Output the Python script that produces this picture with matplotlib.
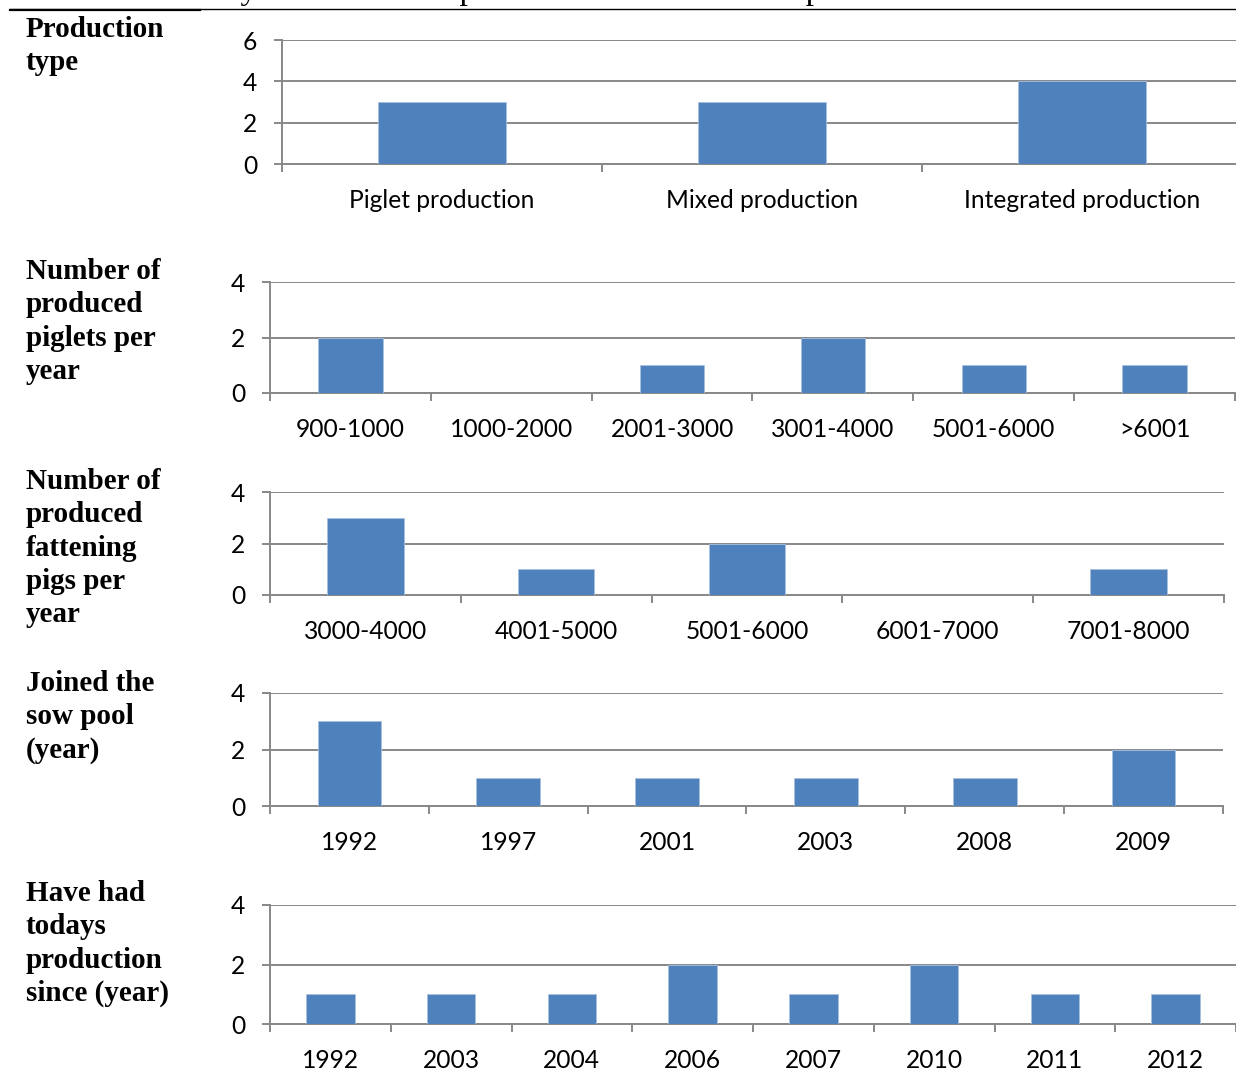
import matplotlib
matplotlib.use("Agg")
import matplotlib.pyplot as plt
import numpy as np

# ---- data ----
production_type = ["Piglet production", "Mixed production", "Integrated production"]
production_type_n = [3, 3, 4]

piglets_per_year = ["900-1000", "1000-2000", "2001-3000", "3001-4000", "5001-6000", ">6001"]
piglets_per_year_n = [2, 0, 1, 2, 1, 1]

fattening_per_year = ["3000-4000", "4001-5000", "5001-6000", "6001-7000", "7001-8000"]
fattening_per_year_n = [3, 1, 2, 0, 1]

joined_year = ["1992", "1997", "2001", "2003", "2008", "2009"]
joined_year_n = [3, 1, 1, 1, 1, 2]

since_year = ["1992", "2003", "2004", "2006", "2007", "2010", "2011", "2012"]
since_year_n = [1, 1, 1, 2, 1, 2, 1, 1]

row_titles = [
    "Production\ntype",
    "Number of\nproduced\npiglets per\nyear",
    "Number of\nproduced\nfattening\npigs per\nyear",
    "Joined the\nsow pool\n(year)",
    "Have had\ntodays\nproduction\nsince (year)",
]

caption = "Table 3. Summary of the most important results of the first part of the interview"

# ---- styling ----
W, H = 1236, 1082
BAR = "#4F81BD"
GRID = "#888888"
TICK_FONT = "Lato"
TICK_SIZE = 17.7
TITLE_FONT = "Liberation Serif"
TITLE_SIZE = 21

fig = plt.figure(figsize=(W / 100, H / 100), dpi=100)
fig.patch.set_facecolor("white")


def px_axes(left, top, right, bottom):
    return fig.add_axes([left / W, 1 - bottom / H, (right - left) / W, (bottom - top) / H])


# panel geometry in pixels: left, top, right, bottom
panels = [
    ((282, 40, 1242, 164), production_type, production_type_n, 6),
    ((270, 282, 1235, 393), piglets_per_year, piglets_per_year_n, 4),
    ((270, 492, 1224, 595), fattening_per_year, fattening_per_year_n, 4),
    ((270, 693, 1223, 806), joined_year, joined_year_n, 4),
    ((270, 905, 1236, 1024), since_year, since_year_n, 4),
]
title_tops = [16, 258, 468, 670, 880]

for (box, cats, vals, ymax), ttop, title in zip(panels, title_tops, row_titles):
    ax = px_axes(*box)
    x = np.arange(len(cats))
    ax.bar(x, vals, width=0.4, color=BAR, edgecolor="#a9c1e0", linewidth=0.6, zorder=3)
    ax.set_xlim(-0.5, len(cats) - 0.5)
    ax.set_ylim(0, ymax)
    ax.set_yticks(np.arange(0, ymax + 1, 2))
    ax.yaxis.grid(True, color=GRID, linewidth=1.4, zorder=0)
    ax.set_axisbelow(True)

    # category labels centred, tick marks on category boundaries
    ax.set_xticks(x)
    ax.set_xticklabels(cats, fontfamily=TICK_FONT, fontsize=TICK_SIZE)
    ax.tick_params(axis="x", which="major", length=0, pad=18)
    ax.set_xticks(np.arange(len(cats) + 1) - 0.5, minor=True)
    ax.tick_params(axis="x", which="minor", length=6, width=1.4, color=GRID, direction="out")

    ax.tick_params(axis="y", length=6, width=1.4, color=GRID, pad=12)
    for lbl in ax.get_yticklabels():
        lbl.set_fontfamily(TICK_FONT)
        lbl.set_fontsize(TICK_SIZE)

    for side in ("top", "right"):
        ax.spines[side].set_visible(False)
    for side in ("left", "bottom"):
        ax.spines[side].set_color(GRID)
        ax.spines[side].set_linewidth(1.4)

    fig.text(26 / W, 1 - ttop / H, title, fontfamily=TITLE_FONT, fontweight="bold",
             fontsize=TITLE_SIZE, va="top", ha="left", linespacing=1.3)

# caption line running off the top edge, with its rule beneath
fig.text(12 / W, 1 + 1.0 / H, caption, fontfamily=TITLE_FONT, fontsize=24,
         va="baseline", ha="left")
fig.add_artist(plt.Line2D([10 / W, 1.0], [1 - 8.5 / H, 1 - 8.5 / H], color="black",
                          linewidth=1.0, transform=fig.transFigure))
fig.add_artist(plt.Line2D([10 / W, 200 / W], [1 - 9.5 / H, 1 - 9.5 / H], color="black",
                          linewidth=1.6, transform=fig.transFigure))

fig.savefig("out.png", dpi=100, facecolor="white")
